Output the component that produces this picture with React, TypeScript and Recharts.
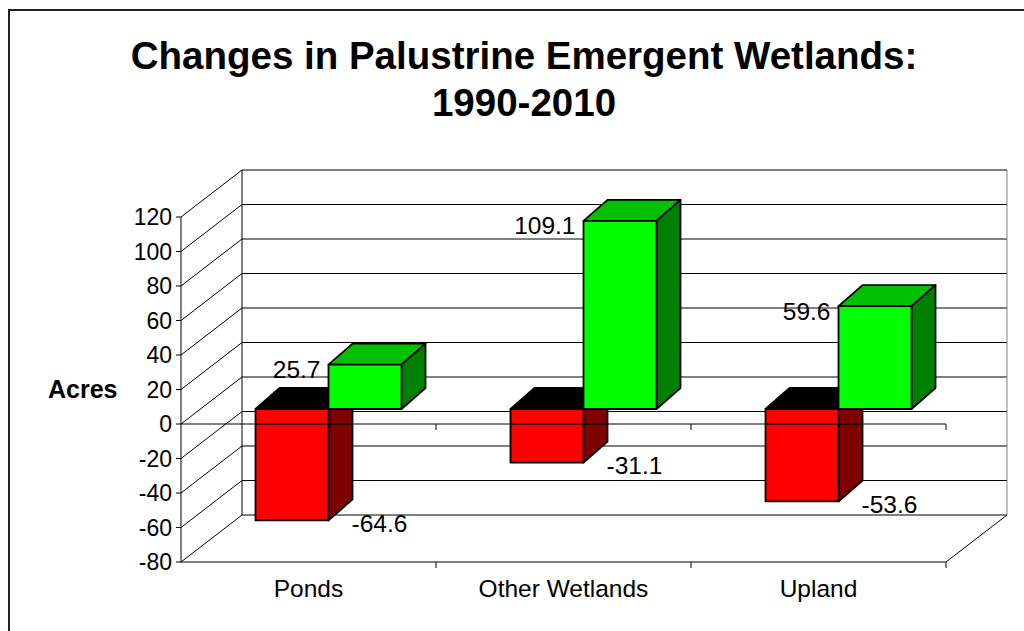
import React from 'react';
import {
  BarChart,
  Bar,
  XAxis,
  YAxis,
  CartesianGrid,
  ReferenceLine,
  LabelList,
  Customized,
} from 'recharts';

// ---------- data ----------
const categories = ['Ponds', 'Other Wetlands', 'Upland'];
const lossValues = [-64.6, -31.1, -53.6];
const gainValues = [25.7, 109.1, 59.6];
const yTicks = [-80, -60, -40, -20, 0, 20, 40, 60, 80, 100, 120];
const titleLines = ['Changes in Palustrine Emergent Wetlands:', '1990-2010'];
const yAxisTitle = 'Acres';

const data = categories.map((name, i) => ({
  name,
  loss: lossValues[i],
  gain: gainValues[i],
}));

// ---------- style / 3D geometry ----------
const FONT = '"Liberation Sans", Arial, Helvetica, sans-serif';
const WALL_DX = 61;
const WALL_DY = 47;
const BAR_SHIFT_X = 19.5;
const BAR_SHIFT_Y = 15;
const BOX_DX = 24;
const BOX_DY = 21;

const rectOf = (p: any) => {
  const vb = p.viewBox && typeof p.viewBox.x === 'number' ? p.viewBox : p;
  const x = Number(vb.x);
  const y = Number(vb.y);
  const w = Number(vb.width);
  const h = Number(vb.height);
  return { x, top: Math.min(y, y + h), bottom: Math.max(y, y + h), w };
};

// negative-valued boxes hang from the zero level: the front zero line
// (category axis on the front plane) is drawn across them
const makeBox = (front: string, topFill: string, side: string, hangsFromZero: boolean) => (p: any) => {
  const { x, top, bottom, w } = rectOf(p);
  const x0 = x + BAR_SHIFT_X;
  const y0 = top - BAR_SHIFT_Y;
  const y1 = bottom - BAR_SHIFT_Y;
  const topPts = `${x0},${y0} ${x0 + BOX_DX},${y0 - BOX_DY} ${x0 + w + BOX_DX},${y0 - BOX_DY} ${x0 + w},${y0}`;
  const sidePts = `${x0 + w},${y0} ${x0 + w + BOX_DX},${y0 - BOX_DY} ${x0 + w + BOX_DX},${y1 - BOX_DY} ${x0 + w},${y1}`;
  const zeroY = top; // front-plane zero for a negative bar
  return (
    <g>
      <g stroke="#000" strokeWidth={1.8} strokeLinejoin="round">
        <polygon points={topPts} fill={topFill} />
        <polygon points={sidePts} fill={side} />
        <rect x={x0} y={y0} width={w} height={y1 - y0} fill={front} />
      </g>
      {hangsFromZero && zeroY < y1 && (
        <line x1={x0} y1={zeroY} x2={x0 + w + BOX_DX} y2={zeroY} stroke="#000" strokeWidth={1} />
      )}
    </g>
  );
};

const LossBox = makeBox('#FF0000', '#000000', '#800000', true);
const GainBox = makeBox('#00FF00', '#00C000', '#008000', false);

const GainLabel = (p: any) => {
  const { x, top } = rectOf(p);
  return (
    <text
      x={x + BAR_SHIFT_X - 8}
      y={top - BAR_SHIFT_Y + 5}
      textAnchor="end"
      dominantBaseline="central"
      fontSize={24.5}
      fontFamily={FONT}
      fill="#000"
    >
      {p.value}
    </text>
  );
};

const LossLabel = (p: any) => {
  const { x, bottom, w } = rectOf(p);
  return (
    <text
      x={x + BAR_SHIFT_X + w + 23}
      y={bottom - BAR_SHIFT_Y + 3}
      textAnchor="start"
      dominantBaseline="central"
      fontSize={24.5}
      fontFamily={FONT}
      fill="#000"
    >
      {p.value}
    </text>
  );
};

const wallHorizontal = (p: any) => {
  const { x1, y1, x2 } = p;
  return (
    <g key={p.key}>
      <line x1={x1} y1={y1} x2={x1 + WALL_DX} y2={y1 - WALL_DY} stroke="#000" strokeWidth={1} />
      <line x1={x1 + WALL_DX} y1={y1 - WALL_DY} x2={x2 + WALL_DX} y2={y1 - WALL_DY} stroke="#000" strokeWidth={1} />
    </g>
  );
};

const wallVertical = (p: any) => {
  const { x1, y1, y2, index } = p;
  const isRight = index === 1;
  return (
    <g key={p.key}>
      <line
        x1={x1 + WALL_DX}
        y1={y1 - WALL_DY}
        x2={x1 + WALL_DX}
        y2={y2 - WALL_DY}
        stroke={isRight ? '#808080' : '#000'}
        strokeWidth={1}
      />
      {isRight && (
        <line x1={x1} y1={y2} x2={x1 + WALL_DX} y2={y2 - WALL_DY} stroke="#000" strokeWidth={1} />
      )}
    </g>
  );
};

const verticalGen = (args: any) => {
  const o = args.offset;
  const w = typeof o.width === 'number' ? o.width : args.width - o.left - o.right;
  return [o.left, o.left + w];
};

const ZeroLine = (p: any) => {
  const { x1, y1, x2 } = p;
  const n = categories.length;
  const step = (x2 - x1) / n;
  return (
    <g>
      <line x1={x1} y1={y1} x2={x2} y2={y1} stroke="#000" strokeWidth={1} />
      {categories.map((_, k) => (
        <line key={k} x1={x1 + step * (k + 1)} y1={y1} x2={x1 + step * (k + 1)} y2={y1 + 6} stroke="#000" strokeWidth={1} />
      ))}
    </g>
  );
};

const CategoryTick = (p: any) => {
  const { x, y, payload } = p;
  const half = payload && payload.offset ? payload.offset : (p.width ? p.width / categories.length / 2 : 0);
  return (
    <g>
      <line x1={x + half} y1={y} x2={x + half} y2={y + 6} stroke="#000" strokeWidth={1} />
      <text x={x} y={y + 26} textAnchor="middle" dominantBaseline="central" fontSize={24.5} fontFamily={FONT} fill="#000">
        {payload.value}
      </text>
    </g>
  );
};

const Title = () => (
  <g>
    {titleLines.map((t, i) => (
      <text
        key={i}
        x={524}
        y={69 + i * 47}
        textAnchor="middle"
        fontSize={38.5}
        fontWeight="bold"
        fontFamily={FONT}
        fill="#000"
      >
        {t}
      </text>
    ))}
  </g>
);

export default function App() {
  return (
    <div
      style={{
        position: 'absolute',
        left: 0,
        top: 0,
        width: 1024,
        height: 631,
        overflow: 'hidden',
        background: '#fff',
      }}
    >
      <div
        style={{
          position: 'absolute',
          left: 8,
          top: 9,
          width: 1100,
          height: 700,
          border: '2px solid #222',
          boxSizing: 'border-box',
        }}
      />
      <div style={{ position: 'absolute', left: 0, top: 0 }}>
        <BarChart
          width={1024}
          height={631}
          data={data}
          margin={{ top: 217, right: 78, bottom: 0, left: 0 }}
          barGap={0}
          barSize={73}
        >
          <CartesianGrid
            horizontal={wallHorizontal}
            vertical={wallVertical}
            verticalCoordinatesGenerator={verticalGen}
          />
          <XAxis
            dataKey="name"
            interval={0}
            height={69}
            axisLine={{ stroke: '#000', strokeWidth: 1 }}
            tickLine={false}
            tickSize={0}
            tickMargin={0}
            tick={<CategoryTick />}
          />
          <YAxis
            type="number"
            domain={[-80, 120]}
            ticks={yTicks}
            interval={0}
            width={181}
            axisLine={{ stroke: '#000', strokeWidth: 1 }}
            tickLine={{ stroke: '#000' }}
            tickSize={5}
            tickMargin={4}
            tick={{ fontSize: 23, fill: '#000', fontFamily: FONT }}
            label={{
              value: yAxisTitle,
              position: 'insideLeft',
              offset: 48,
              fontSize: 25,
              fontWeight: 'bold',
              fill: '#000',
              style: { fontFamily: FONT },
            }}
          />
          <Bar dataKey="loss" isAnimationActive={false} shape={LossBox}>
            <LabelList dataKey="loss" content={LossLabel} />
          </Bar>
          <Bar dataKey="gain" isAnimationActive={false} shape={GainBox}>
            <LabelList dataKey="gain" content={GainLabel} />
          </Bar>
          <ReferenceLine y={0} shape={ZeroLine} ifOverflow="visible" />
          <Customized component={Title} />
        </BarChart>
      </div>
    </div>
  );
}
